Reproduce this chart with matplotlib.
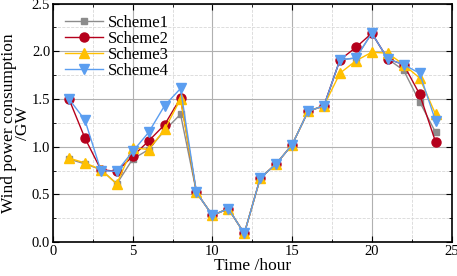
import matplotlib
matplotlib.use('Agg')
import matplotlib.pyplot as plt
from matplotlib.ticker import MultipleLocator

plt.rcParams['font.family'] = ['Liberation Serif', 'DejaVu Serif']

hours = list(range(1, 25))
scheme1 = [0.87, 0.82, 0.76, 0.61, 0.87, 0.97, 1.17, 1.34, 0.52, 0.28, 0.35, 0.09,
           0.67, 0.82, 1.02, 1.37, 1.43, 1.91, 1.93, 2.19, 1.92, 1.80, 1.47, 1.15]
scheme2 = [1.50, 1.09, 0.76, 0.74, 0.90, 1.06, 1.23, 1.51, 0.52, 0.28, 0.35, 0.09,
           0.67, 0.82, 1.02, 1.37, 1.43, 1.91, 2.04, 2.19, 1.92, 1.86, 1.55, 1.05]
scheme3 = [0.88, 0.83, 0.76, 0.61, 0.99, 0.97, 1.18, 1.50, 0.52, 0.28, 0.35, 0.09,
           0.67, 0.82, 1.02, 1.37, 1.43, 1.77, 1.90, 1.99, 1.98, 1.86, 1.72, 1.34]
scheme4 = [1.50, 1.28, 0.75, 0.74, 0.95, 1.15, 1.43, 1.61, 0.52, 0.28, 0.35, 0.09,
           0.67, 0.82, 1.02, 1.37, 1.43, 1.91, 1.93, 2.19, 1.92, 1.86, 1.77, 1.27]

fig = plt.figure(figsize=(4.57, 2.76), dpi=100)
ax = fig.add_axes([0.116, 0.123, 0.872, 0.864])

ax.plot(hours, scheme1, color='#8c8c8c', marker='s', markersize=5, lw=1, label='Scheme1')
ax.plot(hours, scheme2, color='#b5001c', marker='o', markersize=6.5, lw=1, label='Scheme2')
ax.plot(hours, scheme3, color='#ffc000', marker='^', markersize=6.5, lw=1, label='Scheme3')
ax.plot(hours, scheme4, color='#5b9ef0', marker='v', markersize=6.5, lw=1, label='Scheme4')

ax.set_xlim(0, 25)
ax.set_ylim(0, 2.5)
ax.xaxis.set_major_locator(MultipleLocator(5))
ax.xaxis.set_minor_locator(MultipleLocator(2.5))
ax.yaxis.set_major_locator(MultipleLocator(0.5))
ax.yaxis.set_minor_locator(MultipleLocator(0.25))
ax.yaxis.set_major_formatter(plt.FormatStrFormatter('%.1f'))
ax.grid(which='major', color='#b0b0b0', lw=0.8)
ax.grid(which='minor', color='#d8d8d8', lw=0.6, ls='--')
ax.set_axisbelow(True)
ax.tick_params(which='both', direction='in', top=True, right=True, labelsize=10.5, pad=2)
ax.tick_params(which='major', length=4)
ax.tick_params(which='minor', length=2)
for s in ax.spines.values():
    s.set_linewidth(1.2)

ax.set_xlabel('Time /hour', fontsize=12.5, labelpad=0)
ax.set_ylabel('Wind power consumption\n/GW', fontsize=12.5, linespacing=0.88)
ax.yaxis.set_label_coords(-0.054, 0.5)
ax.legend(loc='upper left', fontsize=12, frameon=False, handlelength=2.3,
          borderpad=0.2, labelspacing=0.0, handletextpad=0.3, borderaxespad=0.5)

fig.savefig('out.png', dpi=100)
